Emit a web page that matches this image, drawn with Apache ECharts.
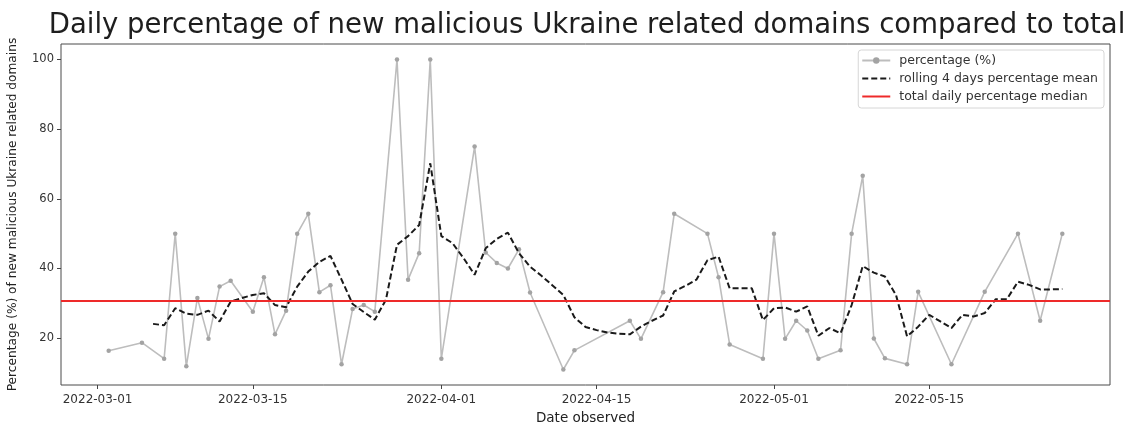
<!DOCTYPE html>
<html>
<head>
<meta charset="utf-8">
<script src="https://cdn.jsdelivr.net/npm/echarts@6/dist/echarts.min.js"></script>
<style>
  html, body { margin: 0; padding: 0; background: #fff; }
  #chart { width: 1144px; height: 426px; }
</style>
</head>
<body>
<div id="chart"></div>
<script>
// Days with an observed percentage of malicious Ukraine related domains
const percentDates = [
  '2022-03-02', '2022-03-05', '2022-03-07', '2022-03-08', '2022-03-09', '2022-03-10',
  '2022-03-11', '2022-03-12', '2022-03-13', '2022-03-15', '2022-03-16', '2022-03-17',
  '2022-03-18', '2022-03-19', '2022-03-20', '2022-03-21', '2022-03-22', '2022-03-23',
  '2022-03-24', '2022-03-25', '2022-03-26', '2022-03-28', '2022-03-29', '2022-03-30',
  '2022-03-31', '2022-04-01', '2022-04-04', '2022-04-05', '2022-04-06', '2022-04-07',
  '2022-04-08', '2022-04-09', '2022-04-12', '2022-04-13', '2022-04-18', '2022-04-19',
  '2022-04-21', '2022-04-22', '2022-04-25', '2022-04-26', '2022-04-27', '2022-04-30',
  '2022-05-01', '2022-05-02', '2022-05-03', '2022-05-04', '2022-05-05', '2022-05-07',
  '2022-05-08', '2022-05-09', '2022-05-10', '2022-05-11', '2022-05-13', '2022-05-14',
  '2022-05-17', '2022-05-20', '2022-05-23', '2022-05-25', '2022-05-27'
];
const percentValues = [
  16.4, 18.7, 14.1, 50.0, 11.9, 31.5,
  19.8, 34.8, 36.5, 27.6, 37.5, 21.1,
  27.9, 50.0, 55.7, 33.2, 35.2, 12.5,
  28.4, 29.5, 27.6, 100.0, 36.8, 44.4,
  100.0, 14.1, 75.0, 44.6, 41.6, 40.0,
  45.5, 33.1, 11.0, 16.5, 25.0, 19.8,
  33.2, 55.7, 50.0, 37.5, 18.2, 14.1,
  50.0, 19.8, 25.0, 22.2, 14.1, 16.5,
  50.0, 66.6, 19.9, 14.2, 12.5, 33.3,
  12.5, 33.3, 50.0, 25.0, 50.0
];

// Rolling 4 days mean, one value per calendar day
const rollingDates = [
  '2022-03-06', '2022-03-07', '2022-03-08', '2022-03-09', '2022-03-10', '2022-03-11',
  '2022-03-12', '2022-03-13', '2022-03-14', '2022-03-15', '2022-03-16', '2022-03-17',
  '2022-03-18', '2022-03-19', '2022-03-20', '2022-03-21', '2022-03-22', '2022-03-23',
  '2022-03-24', '2022-03-25', '2022-03-26', '2022-03-27', '2022-03-28', '2022-03-29',
  '2022-03-30', '2022-03-31',
  '2022-04-01', '2022-04-02', '2022-04-03', '2022-04-04', '2022-04-05', '2022-04-06',
  '2022-04-07', '2022-04-08', '2022-04-09', '2022-04-10', '2022-04-11', '2022-04-12',
  '2022-04-13', '2022-04-14', '2022-04-15', '2022-04-16', '2022-04-17', '2022-04-18',
  '2022-04-19', '2022-04-20', '2022-04-21', '2022-04-22', '2022-04-23', '2022-04-24',
  '2022-04-25', '2022-04-26', '2022-04-27', '2022-04-28', '2022-04-29', '2022-04-30',
  '2022-05-01', '2022-05-02', '2022-05-03', '2022-05-04', '2022-05-05', '2022-05-06',
  '2022-05-07', '2022-05-08', '2022-05-09', '2022-05-10', '2022-05-11', '2022-05-12',
  '2022-05-13', '2022-05-14', '2022-05-15', '2022-05-16', '2022-05-17', '2022-05-18',
  '2022-05-19', '2022-05-20', '2022-05-21', '2022-05-22', '2022-05-23', '2022-05-24',
  '2022-05-25', '2022-05-26', '2022-05-27'
];
const rollingValues = [
  24.1, 23.7, 28.6, 27.0, 26.7, 27.9,
  24.8, 30.5, 31.5, 32.4, 32.9, 29.5,
  28.9, 34.8, 39.1, 41.9, 43.6, 36.8,
  29.8, 27.5, 25.3, 31.0, 46.8, 49.3,
  52.5, 70.2,
  49.3, 47.3, 43.0, 38.2, 45.8, 48.5,
  50.3, 44.4, 40.5, 38.0, 35.2, 32.4,
  26.0, 23.2, 22.3, 21.6, 21.3, 21.1,
  23.3, 25.0, 26.5, 33.4, 35.0, 36.8,
  42.4, 43.4, 34.3, 34.3, 34.3, 25.2,
  28.6, 28.8, 27.6, 29.1, 20.7, 22.9,
  21.4, 29.5, 40.7, 38.8, 37.7, 32.4,
  20.5, 23.3, 26.7, 24.8, 22.9, 26.7,
  26.2, 27.2, 31.2, 31.2, 36.2, 35.3,
  34.0, 34.0, 34.1
];

// Median of the whole daily percentage series
const medianValue = 30.8;

const xTickLabels = ['2022-03-01', '2022-03-15', '2022-04-01', '2022-04-15', '2022-05-01', '2022-05-15'];
const yTickLabels = [20, 40, 60, 80, 100];

const seriesNames = [
  'percentage (%)',
  'rolling 4 days percentage mean',
  'total daily percentage median'
];

// UTC timestamp for a 'YYYY-MM-DD' string
function toTime(s) {
  const p = s.split('-').map(Number);
  return Date.UTC(p[0], p[1] - 1, p[2]);
}
function fmtDate(v) {
  const d = new Date(v);
  const mm = String(d.getUTCMonth() + 1).padStart(2, '0');
  const dd = String(d.getUTCDate()).padStart(2, '0');
  return d.getUTCFullYear() + '-' + mm + '-' + dd;
}

// Axis limits padded by 5% of the data span on each side
const allTimes = percentDates.concat(rollingDates).map(toTime);
const tMin = Math.min.apply(null, allTimes);
const tMax = Math.max.apply(null, allTimes);
const tPad = (tMax - tMin) * 0.05;
const allVals = percentValues.concat(rollingValues);
const vMin = Math.min.apply(null, allVals);
const vMax = Math.max.apply(null, allVals);
const vPad = (vMax - vMin) * 0.05;

const FONT = 'DejaVu Sans';

const chart = echarts.init(document.getElementById('chart'), null, { renderer: 'canvas' });

chart.setOption({
  backgroundColor: '#ffffff',
  animation: false,
  textStyle: { fontFamily: FONT },
  title: {
    text: 'Daily percentage of new malicious Ukraine related domains compared to total',
    left: 582,
    top: 7,
    textAlign: 'center',
    textStyle: { fontFamily: FONT, fontSize: 27.5, fontWeight: 'normal', color: '#1e1e1e' }
  },
  legend: {
    data: [
      { name: seriesNames[0] },
      { name: seriesNames[1], itemStyle: { opacity: 0 } },
      { name: seriesNames[2], itemStyle: { opacity: 0 } }
    ],
    orient: 'vertical',
    right: 40,
    top: 50,
    itemWidth: 28,
    itemHeight: 8,
    itemGap: 5,
    padding: [4, 6, 5, 3],
    borderColor: '#d6d6d6',
    borderWidth: 1,
    borderRadius: 3,
    backgroundColor: 'rgba(255,255,255,0.85)',
    textStyle: { fontFamily: FONT, fontSize: 12.5, color: '#333', padding: [0, 0, 0, 4] }
  },
  grid: {
    left: 61,
    right: 34,
    top: 44,
    bottom: 41,
    outerBoundsMode: 'none',
    containLabel: false,
    show: true,
    borderColor: '#4a4a4a',
    borderWidth: 1,
    backgroundColor: 'transparent'
  },
  xAxis: {
    type: 'value',
    min: tMin - tPad,
    max: tMax + tPad,
    name: 'Date observed',
    nameLocation: 'middle',
    nameGap: 26,
    nameTextStyle: { fontFamily: FONT, fontSize: 13.5, color: '#222' },
    axisLine: { show: false },
    splitLine: { show: false },
    axisTick: {
      show: true,
      length: 4,
      lineStyle: { color: '#444' },
      customValues: xTickLabels.map(toTime)
    },
    axisLabel: {
      fontFamily: FONT,
      fontSize: 12,
      color: '#333',
      margin: 9,
      customValues: xTickLabels.map(toTime),
      formatter: fmtDate
    }
  },
  yAxis: {
    type: 'value',
    min: vMin - vPad,
    max: vMax + vPad,
    name: 'Percentage (%) of new malicious Ukraine related domains',
    nameLocation: 'middle',
    nameGap: 42,
    nameRotate: 90,
    nameTextStyle: { fontFamily: FONT, fontSize: 12.2, color: '#222' },
    axisLine: { show: false },
    splitLine: { show: false },
    axisTick: {
      show: true,
      length: 4,
      lineStyle: { color: '#444' },
      customValues: yTickLabels
    },
    axisLabel: {
      fontFamily: FONT,
      fontSize: 11.5,
      color: '#333',
      margin: 7,
      customValues: yTickLabels
    }
  },
  series: [
    {
      name: seriesNames[0],
      type: 'line',
      data: percentDates.map((d, i) => [toTime(d), percentValues[i]]),
      color: '#b9b9b9',
      lineStyle: { color: '#bdbdbd', width: 1.6 },
      symbol: 'circle',
      symbolSize: 4.5,
      itemStyle: { color: '#a3a3a3', borderWidth: 0 },
      z: 2
    },
    {
      name: seriesNames[1],
      type: 'line',
      data: rollingDates.map((d, i) => [toTime(d), rollingValues[i]]),
      color: '#1a1a1a',
      showSymbol: false,
      symbol: 'none',
      lineStyle: { color: '#1a1a1a', width: 2, type: [6, 3] },
      z: 3
    },
    {
      name: seriesNames[2],
      type: 'line',
      data: [],
      color: '#ee2a2a',
      symbol: 'none',
      lineStyle: { color: '#ee2a2a', width: 1.8 },
      markLine: {
        silent: true,
        symbol: 'none',
        label: { show: false },
        lineStyle: { color: '#ee2a2a', width: 1.8, type: 'solid' },
        data: [{ yAxis: medianValue }]
      },
      z: 1
    }
  ]
});
</script>
</body>
</html>
